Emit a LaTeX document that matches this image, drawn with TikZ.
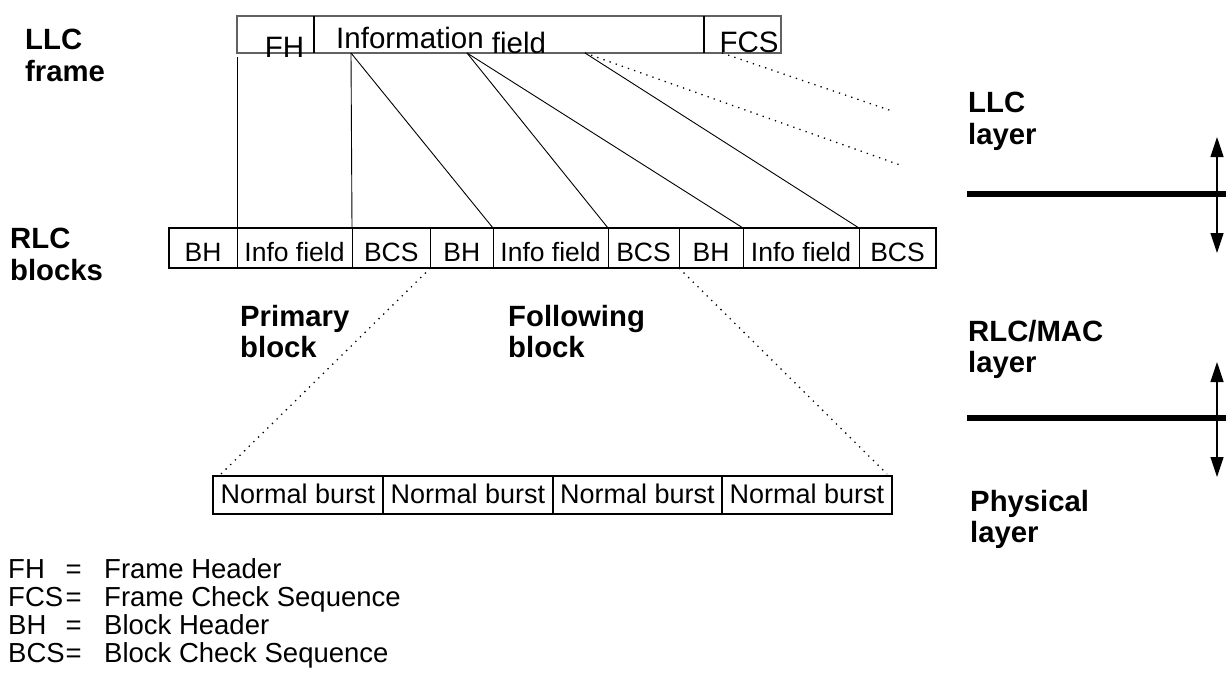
\documentclass[tikz,border=0pt]{standalone}
\usepackage{fontspec}
\setmainfont{Liberation Sans}
\usetikzlibrary{arrows.meta}
\begin{document}
\begin{tikzpicture}[x=1pt,y=-1pt,
  fcellst/.style={draw=black!62, line width=1.6pt, minimum height=37pt, inner sep=0pt, outer sep=0pt, anchor=north west},
  ftext/.style={font=\fontsize{29.5}{32}\selectfont, inner sep=0pt},
  rcell/.style={draw, line width=1pt, minimum height=40pt, inner sep=0pt, outer sep=0pt, anchor=north west, text height=26pt, text depth=0pt, font=\fontsize{26.5}{28}\selectfont},
  bcell/.style={draw, line width=1.1pt, minimum height=38pt, inner sep=0pt, outer sep=0pt, anchor=north west, text height=16pt, text depth=0pt, font=\fontsize{27}{28}\selectfont},
  blabel/.style={font=\fontsize{29.3}{31.5}\selectfont\bfseries, align=left, anchor=north west, inner sep=0pt},
  leg/.style={font=\fontsize{27.5}{28}\selectfont, inner sep=0pt},
  link/.style={line width=0.9pt},
  dotlink/.style={line width=1.3pt, dash pattern=on 1.3pt off 5.2pt},
  layerline/.style={line width=5.7pt},
  updown/.style={line width=1.3pt, {Triangle[length=20pt,width=13pt]}-{Triangle[length=20pt,width=13pt]}}
]
\useasboundingbox (0,0) rectangle (1226,675);

% LLC frame
\node[fcellst, minimum width=77pt] (fFH) at (237,16) {};
\node[fcellst, minimum width=390pt] (fInfo) at (314,16) {};
\node[fcellst, minimum width=77pt] (fFCS) at (704,16) {};
\draw[line width=2.4pt] (fFH.north east) -- (fFH.south east);
\draw[line width=2.4pt] (fFCS.north west) -- (fFCS.south west);
\node[ftext, anchor=base] (tFH) at (284.5,57) {FH};
\node[ftext, anchor=base west] (tInfo) at (336,48.5) {Information \raisebox{-4.5pt}{field}};
\node[ftext, anchor=base] (tFCS) at (749,52) {FCS};

\coordinate (q0) at (237,57);
\coordinate (p1) at (351,53);
\coordinate (p2) at (467,53);
\coordinate (p3) at (585,53);
\coordinate (p4) at (722,53);
\coordinate (e1) at (900,165);
\coordinate (e2) at (892,111);

% RLC blocks
\node[rcell, minimum width=68pt]   (c1) at (169,228)   {BH};
\node[rcell, minimum width=115pt]  (c2) at (237,228)   {Info field};
\node[rcell, minimum width=78.5pt] (c3) at (352,228)   {BCS};
\node[rcell, minimum width=62.5pt] (c4) at (430.5,228) {BH};
\node[rcell, minimum width=115pt]  (c5) at (493,228)   {Info field};
\node[rcell, minimum width=71pt]   (c6) at (608,228)   {BCS};
\node[rcell, minimum width=64pt]   (c7) at (679,228)   {BH};
\node[rcell, minimum width=116pt]  (c8) at (743,228)   {Info field};
\node[rcell, minimum width=77pt]   (c9) at (859,228)   {BCS};
\draw[line width=2pt] (c1.north west) rectangle (c9.south east);

% bursts
\node[bcell, minimum width=170pt] (b1) at (213,476) {Normal burst};
\node[bcell, minimum width=170pt] (b2) at (383,476) {Normal burst};
\node[bcell, minimum width=169pt] (b3) at (553,476) {Normal burst};
\node[bcell, minimum width=170pt] (b4) at (722,476) {Normal burst};
\draw[line width=1.8pt] (b1.north west) rectangle (b4.south east);

% connectors
\draw[link] (q0) -- (c2.north west);
\draw[link] (p1) -- (c3.north west);
\draw[link] (p1) -- (c5.north west);
\draw[link] (p2) -- (c6.north west);
\draw[link] (p2) -- (c8.north west);
\draw[link] (p3) -- (c9.north west);
\draw[dotlink] (p3) -- (e1);
\draw[dotlink] (p4) -- (e2);
\draw[dotlink] (c4.south west) -- ([shift={(8pt,2pt)}]b1.north west);
\draw[dotlink] (c7.south west) -- ([shift={(-5pt,2pt)}]b4.north east);

% layer separators and arrows
\coordinate (l1a) at (967,194);
\coordinate (l1b) at (1226,194);
\coordinate (l2a) at (967,418);
\coordinate (l2b) at (1226,418);
\draw[layerline] (l1a) -- (l1b);
\draw[layerline] (l2a) -- (l2b);
\coordinate (a1t) at (1217,137);
\coordinate (a1b) at (1217,253);
\coordinate (a2t) at (1217,362);
\coordinate (a2b) at (1217,477);
\draw[updown] (a1t) -- (a1b);
\draw[updown] (a2t) -- (a2b);

% labels
\node[blabel] (lLLCf) at (25,29)   {LLC\\frame};
\node[blabel] (lRLCb) at (10,228)  {RLC\\blocks};
\node[blabel] (lPrim) at (240,305) {Primary\\block};
\node[blabel] (lFoll) at (508,305) {Following\\block};
\node[blabel] (lLLCl) at (968,92)  {LLC\\layer};
\node[blabel] (lRLCl) at (968,320) {RLC/MAC\\layer};
\node[blabel] (lPhy)  at (970,490) {Physical\\layer};

% legend
\node[leg, anchor=base west] (kFH)  at (8,578) {FH};
\node[leg, anchor=base east] (eFH)  at (82,578) {=};
\node[leg, anchor=base west] (dFH)  at (104,578) {Frame Header};
\node[leg, anchor=base west] (kFCS) at (8,606) {FCS};
\node[leg, anchor=base east] (eFCS) at (82,606) {=};
\node[leg, anchor=base west] (dFCS) at (104,606) {Frame Check Sequence};
\node[leg, anchor=base west] (kBH)  at (8,634) {BH};
\node[leg, anchor=base east] (eBH)  at (82,634) {=};
\node[leg, anchor=base west] (dBH)  at (104,634) {Block Header};
\node[leg, anchor=base west] (kBCS) at (8,662) {BCS};
\node[leg, anchor=base east] (eBCS) at (82,662) {=};
\node[leg, anchor=base west] (dBCS) at (104,662) {Block Check Sequence};
\end{tikzpicture}
\end{document}
